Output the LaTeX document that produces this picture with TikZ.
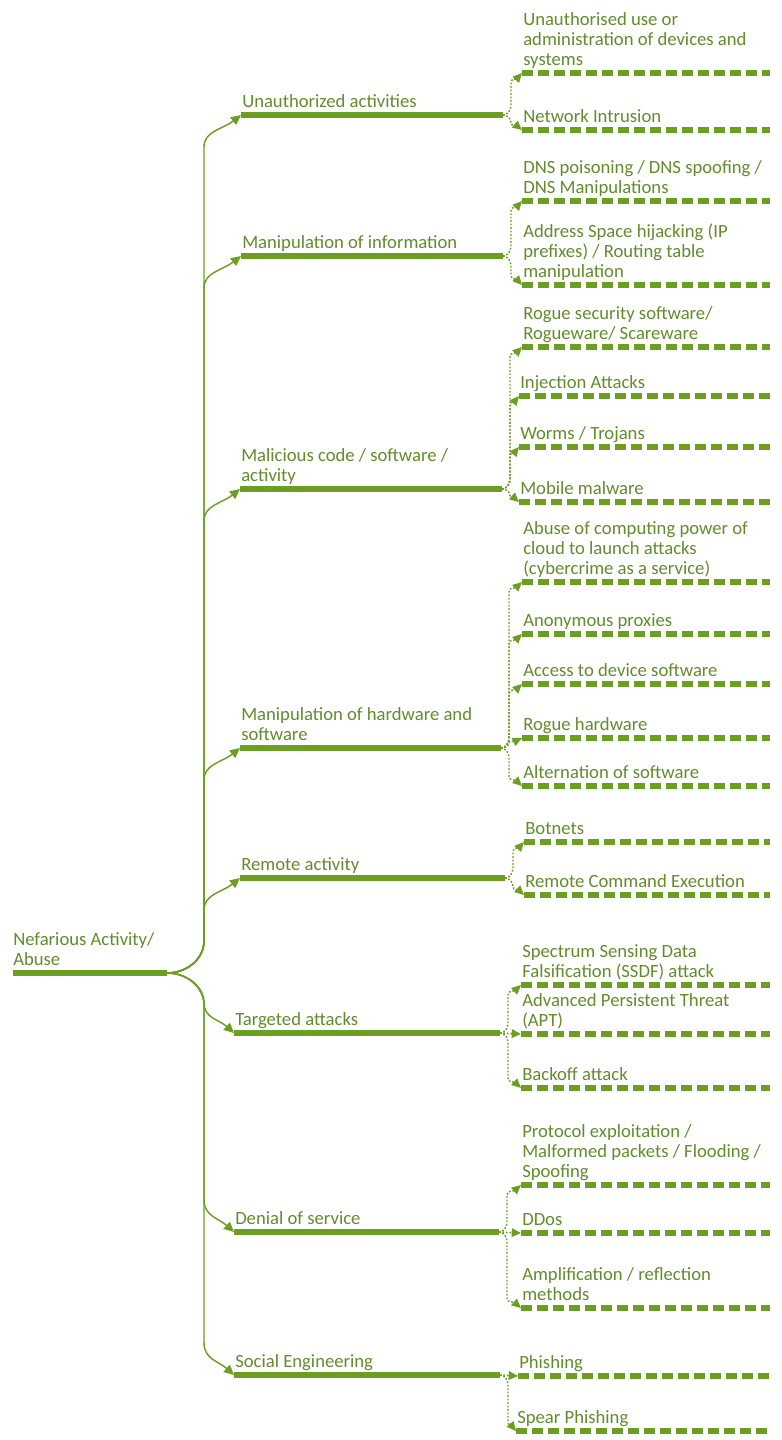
\documentclass[tikz,border=0pt]{standalone}
\usepackage{fontspec}
\setmainfont{Carlito}
\usetikzlibrary{arrows.meta,calc}
\definecolor{leaf}{RGB}{108,158,34}
\definecolor{ink}{RGB}{98,140,44}

\tikzset{
  lbl/.style={anchor=south west, inner sep=0pt, align=left, text=ink,
    font=\fontsize{14}{15}\selectfont, execute at end node=\strut},
  rootbar/.style={line width=4.8pt, leaf},
  mainbar/.style={line width=4.2pt, leaf},
  leafbar/.style={line width=3.9pt, leaf, dash pattern=on 8.5pt off 3.5pt},
  branch/.style={line width=1.1pt, leaf, -{Triangle[length=7.5pt,width=7pt]}},
  twig/.style={line width=1.1pt, leaf, dash pattern=on 1.3pt off 1.3pt,
    -{Triangle[length=7pt,width=6.5pt]}},
}

% #1 style, #2 start, #3 target, #4 offset of the vertical run (pt),
% #5 corner radius (pt), #6 steepness of the arrival
\newcommand\limb[6]{%
  \draw[#1] let \p1=(#2), \p2=(#3),
      \n1={sign(\y2-\y1)},
      \n2={min(#5,abs(\y2-\y1)/2)},
      \n3={\x2-\x1-#4}
    in (\p1)
      .. controls ({\x1+0.55*#4},{\y1}) and ({\x1+#4},{\y1+0.45*(\n1)*\n2}) .. ({\x1+#4},{\y1+(\n1)*\n2})
      -- ({\x1+#4},{\y2-(\n1)*\n2})
      .. controls ({\x1+#4},{\y2-0.5*(\n1)*\n2}) and ({\x2-0.5*\n3},{\y2-0.5*#6*(\n1)*min(\n3,\n2)}) .. (\p2);}

\begin{document}
\begin{tikzpicture}[x=0.75pt,y=-0.75pt]
\useasboundingbox (0,0) rectangle (782,1440);

% root
\coordinate (root-s) at (13,973);
\coordinate (root-e) at (167,973);
\draw[rootbar] (root-s) -- (root-e);
\node[lbl] (root-t) at ($(root-s)+(0,-1)$) {Nefarious Activity/\\Abuse};

% first level: name / start x / end x / y / text
\foreach \c/\xs/\xe/\yy/\txt in {
  c1/241/503/115/{Unauthorized activities},
  c2/241/503/256/{Manipulation of information},
  c3/240/502/489/{Malicious code / software /\\activity},
  c4/240/501/748/{Manipulation of hardware and\\software},
  c5/240/505/878/{Remote activity},
  c6/234/500/1033/{Targeted attacks},
  c7/234/499/1232/{Denial of service},
  c8/234/500/1375/{Social Engineering}}{
  \coordinate (\c-s) at (\xs,\yy);
  \coordinate (\c-e) at (\xe,\yy);
  \draw[mainbar] (\c-s) -- (\c-e);
  \node[lbl] (\c-t) at ($(\c-s)+(1,-1)$) {\txt};
}

% second level: name / start x / y / text
\foreach \c/\xs/\yy/\txt in {
  a1/522/73/{Unauthorised use or\\administration of devices and\\systems},
  a2/522/130/{Network Intrusion},
  b1/522/201/{DNS poisoning / DNS spoofing /\\DNS Manipulations},
  b2/522/285/{Address Space hijacking (IP\\prefixes) / Routing table\\manipulation},
  m1/522/347/{Rogue security software/\\Rogueware/ Scareware},
  m2/519/396/{Injection Attacks},
  m3/519/447/{Worms / Trojans},
  m4/519/502/{Mobile malware},
  h1/522/582/{Abuse of computing power of\\cloud to launch attacks\\(cybercrime as a service)},
  h2/522/634/{Anonymous proxies},
  h3/522/684/{Access to device software},
  h4/522/738/{Rogue hardware},
  h5/522/786/{Alternation of software},
  r1/524/842/{Botnets},
  r2/524/895/{Remote Command Execution},
  t1/521/985/{Spectrum Sensing Data\\Falsification (SSDF) attack},
  t2/521/1034/{Advanced Persistent Threat\\(APT)},
  t3/521/1088/{Backoff attack},
  d1/521/1185/{Protocol exploitation /\\Malformed packets / Flooding /\\Spoofing},
  d2/521/1233/{DDos},
  d3/521/1308/{Amplification / reflection\\methods},
  s1/518/1376/{Phishing},
  s2/516/1431/{Spear Phishing}}{
  \coordinate (\c-s) at (\xs,\yy);
  \coordinate (\c-e) at (770,\yy);
  \draw[leafbar] (\c-s) -- (\c-e);
  \node[lbl] (\c-t) at ($(\c-s)+(1,-1)$) {\txt};
}

% root to first level
\foreach \c in {c1,c2,c3,c4,c5,c6,c7,c8}{
  \limb{branch}{root-e}{\c-s}{27.75}{24}{0.9}
}

% first level to second level
\foreach \src/\dst in {c1/a1,c1/a2,c2/b1,c2/b2,
  c3/m1,c3/m2,c3/m3,c3/m4,
  c4/h1,c4/h2,c4/h3,c4/h4,c4/h5,
  c5/r1,c5/r2,c6/t1,c6/t2,c6/t3,
  c7/d1,c7/d2,c7/d3,c8/s1,c8/s2}{
  \limb{twig}{\src-e}{\dst-s}{6}{7.5}{1.2}
}
\end{tikzpicture}
\end{document}
